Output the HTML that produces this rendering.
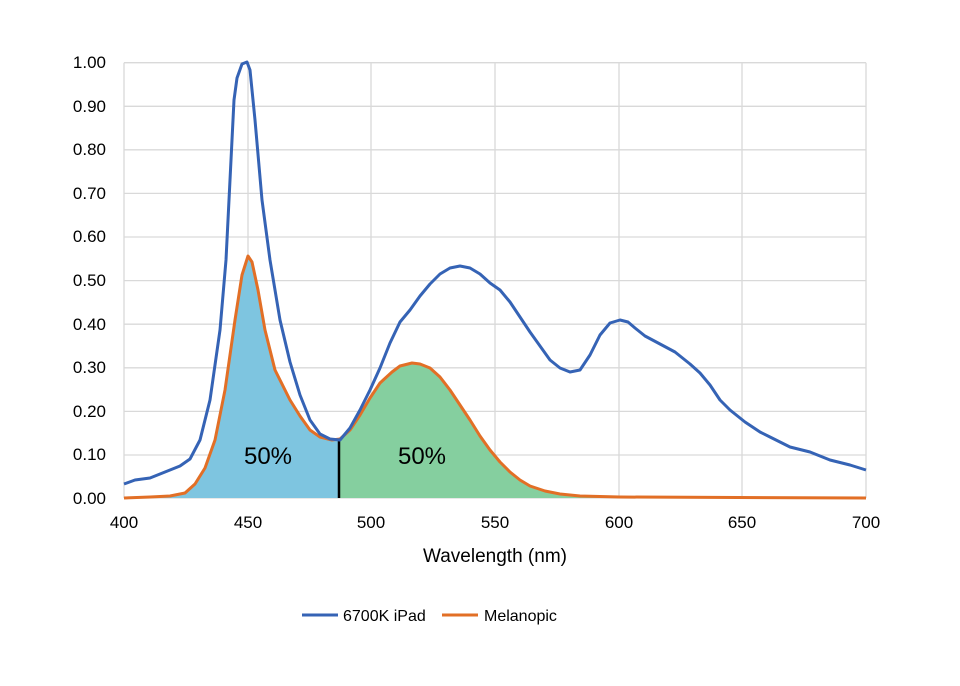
<!DOCTYPE html>
<html><head><style>body{margin:0;background:#fff}svg{display:block;font-family:"Liberation Sans",sans-serif}</style></head><body>
<svg width="960" height="686" viewBox="0 0 960 686" xmlns="http://www.w3.org/2000/svg">
<g stroke="#d9d9d9" stroke-width="1.3">
<line x1="124" y1="62.7" x2="866" y2="62.7"/><line x1="124" y1="106.3" x2="866" y2="106.3"/><line x1="124" y1="149.8" x2="866" y2="149.8"/><line x1="124" y1="193.4" x2="866" y2="193.4"/><line x1="124" y1="237" x2="866" y2="237"/><line x1="124" y1="280.6" x2="866" y2="280.6"/><line x1="124" y1="324.2" x2="866" y2="324.2"/><line x1="124" y1="367.8" x2="866" y2="367.8"/><line x1="124" y1="411.4" x2="866" y2="411.4"/><line x1="124" y1="455" x2="866" y2="455"/>
<line x1="124" y1="62.7" x2="124" y2="498"/><line x1="248" y1="62.7" x2="248" y2="498"/><line x1="371" y1="62.7" x2="371" y2="498"/><line x1="495" y1="62.7" x2="495" y2="498"/><line x1="619" y1="62.7" x2="619" y2="498"/><line x1="742" y1="62.7" x2="742" y2="498"/><line x1="866" y1="62.7" x2="866" y2="498"/>
<line x1="124" y1="498" x2="866" y2="498"/>
</g>
<polygon fill="#7ec5e0" points="124,498 150,497 170,496 185,493 195,484 205,468 215,440 225,390 235,320 242,275 248,256 252,262 258,290 265,330 275,370 290,400 300,416 310,430 320,437 332,440 339,440 339,498"/>
<polygon fill="#85cf9f" points="339,498 339,440 350,430 360,415 370,398 380,383 392,372 400,366 412,363 420,364 430,368 440,377 450,390 460,405 470,420 480,436 490,450 500,462 510,472 520,480 530,486 545,491 560,494 580,496 620,497 866,498"/>
<line x1="339" y1="440" x2="339" y2="498" stroke="#000" stroke-width="2.5"/>
<polyline fill="none" stroke="#e26f26" stroke-width="3" stroke-linejoin="round" points="124,498 150,497 170,496 185,493 195,484 205,468 215,440 225,390 235,320 242,275 248,256 252,262 258,290 265,330 275,370 290,400 300,416 310,430 320,437 332,440 340,439 350,430 360,415 370,398 380,383 392,372 400,366 412,363 420,364 430,368 440,377 450,390 460,405 470,420 480,436 490,450 500,462 510,472 520,480 530,486 545,491 560,494 580,496 620,497 866,498"/>
<polyline fill="none" stroke="#3563b5" stroke-width="3" stroke-linejoin="round" points="124,484 135,480 150,478 165,472 180,466 190,459 200,440 210,400 220,330 226,260 230,180 234,100 237,78 242,64 247,62 250,70 255,120 262,200 270,260 280,320 290,362 300,395 310,420 320,434 330,439 340,440 350,428 360,410 370,390 380,368 390,343 400,322 410,310 420,296 430,284 440,274 450,268 460,266 470,268 480,274 490,283 500,290 510,302 520,317 530,332 540,346 550,360 560,368 570,372 580,370 590,355 600,335 610,323 620,320 628,322 635,328 645,336 660,344 675,352 690,364 700,373 710,385 720,400 730,410 745,422 760,432 770,437 790,447 810,452 830,460 850,465 866,470"/>
<g font-size="17" fill="#000" text-anchor="end">
<text x="106" y="68">1.00</text><text x="106" y="112">0.90</text><text x="106" y="155">0.80</text><text x="106" y="199">0.70</text><text x="106" y="242">0.60</text><text x="106" y="286">0.50</text><text x="106" y="330">0.40</text><text x="106" y="373">0.30</text><text x="106" y="417">0.20</text><text x="106" y="460">0.10</text><text x="106" y="504">0.00</text>
</g>
<g font-size="17" fill="#000" text-anchor="middle">
<text x="124" y="528">400</text><text x="248" y="528">450</text><text x="371" y="528">500</text><text x="495" y="528">550</text><text x="619" y="528">600</text><text x="742" y="528">650</text><text x="866" y="528">700</text>
<text x="495" y="562" font-size="19">Wavelength (nm)</text>
<text x="268" y="464" font-size="24">50%</text><text x="422" y="464" font-size="24">50%</text>
</g>
<line x1="302" y1="615" x2="338" y2="615" stroke="#3563b5" stroke-width="3"/>
<text x="343" y="621" font-size="16">6700K iPad</text>
<line x1="442" y1="615" x2="478" y2="615" stroke="#e26f26" stroke-width="3"/>
<text x="484" y="621" font-size="16">Melanopic</text>
</svg>
</body></html>
